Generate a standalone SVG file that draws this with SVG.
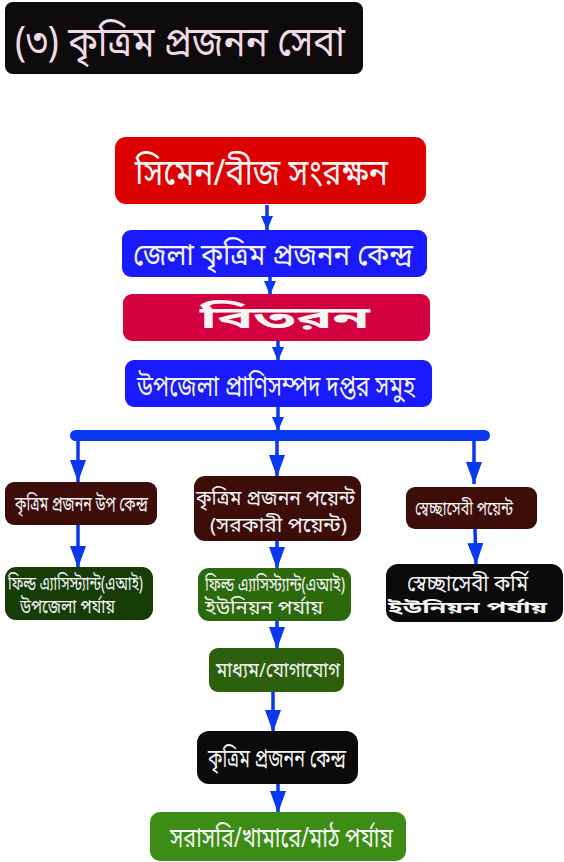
<svg xmlns="http://www.w3.org/2000/svg" width="564" height="862" viewBox="0 0 564 862">
<defs>
<style>
text{font-family:"Noto Sans Bengali","Noto Sans","DejaVu Sans",sans-serif;fill:#f4f4f4;text-anchor:start}
.t{fill:#f0dae6}
.c{stroke:#0a38f0;stroke-width:3.5;fill:none}
</style>
<marker id="al" markerUnits="userSpaceOnUse" viewBox="0 0 22 16" refX="22" refY="8" markerWidth="22" markerHeight="16" orient="auto">
<path d="M0,0 L22,8 L0,16 Z" fill="#0a38f0"/>
</marker>
<marker id="am" markerUnits="userSpaceOnUse" viewBox="0 0 14 12" refX="14" refY="6" markerWidth="14" markerHeight="12" orient="auto">
<path d="M0,0 L14,6 L0,12 Z" fill="#0a38f0"/>
</marker>
</defs>
<rect width="564" height="862" fill="#ffffff"/>
<g id="title">
<rect x="5" y="2" width="358" height="72" rx="8" fill="#0d0b0b"/>
<text class="t" x="15" y="56" font-size="42" textLength="330" lengthAdjust="spacingAndGlyphs">(৩) কৃত্রিম প্রজনন সেবা</text>
</g>
<g id="connectors">
<line class="c" x1="267" y1="205" x2="267" y2="230" marker-end="url(#am)"/>
<line class="c" x1="270" y1="277" x2="270" y2="295" marker-end="url(#am)"/>
<line class="c" x1="278" y1="341" x2="278" y2="361" marker-end="url(#am)"/>
<line class="c" x1="278" y1="407" x2="278" y2="431" marker-end="url(#am)"/>
<rect x="70" y="430" width="420" height="11" rx="5.5" fill="#0a38f0"/>
<line class="c" x1="78" y1="441" x2="78" y2="482" marker-end="url(#al)"/>
<line class="c" x1="277" y1="441" x2="277" y2="477" marker-end="url(#al)"/>
<line class="c" x1="474" y1="441" x2="474" y2="484" marker-end="url(#al)"/>
<line class="c" x1="78" y1="525" x2="78" y2="568" marker-end="url(#al)"/>
<line class="c" x1="277" y1="541" x2="277" y2="569" marker-end="url(#al)"/>
<line class="c" x1="475" y1="529" x2="476" y2="565" marker-end="url(#al)"/>
<line class="c" x1="277" y1="621" x2="277" y2="649" marker-end="url(#al)"/>
<line class="c" x1="273" y1="692" x2="273" y2="732" marker-end="url(#al)"/>
<line class="c" x1="278" y1="784" x2="278" y2="813" marker-end="url(#al)"/>
</g>
<g id="n1">
<rect x="115" y="137" width="311" height="67" rx="11" fill="#dc0000"/>
<text x="135" y="185" font-size="36" textLength="253" lengthAdjust="spacingAndGlyphs">সিমেন/বীজ সংরক্ষন</text>
</g>
<g id="n2">
<rect x="122" y="230" width="305" height="47" rx="9" fill="#1a1aff"/>
<text x="133" y="265" font-size="30" textLength="280" lengthAdjust="spacingAndGlyphs">জেলা কৃত্রিম প্রজনন কেন্দ্র</text>
</g>
<g id="n3">
<rect x="123" y="294" width="307" height="47" rx="9" fill="#d2003e"/>
<text x="200" y="328" font-size="30" font-weight="bold" textLength="170" lengthAdjust="spacingAndGlyphs">বিতরন</text>
</g>
<g id="n4">
<rect x="125" y="360" width="307" height="47" rx="9" fill="#1a1aff"/>
<text x="137" y="396" font-size="29" textLength="278" lengthAdjust="spacingAndGlyphs">উপজেলা প্রাণিসম্পদ দপ্তর সমুহ</text>
</g>
<g id="n5">
<rect x="5" y="482" width="152" height="43" rx="9" fill="#3d0d0a"/>
<text x="15" y="511" font-size="20" textLength="133" lengthAdjust="spacingAndGlyphs">কৃত্রিম প্রজনন উপ কেন্দ্র</text>
</g>
<g id="n6">
<rect x="194" y="476" width="167" height="65" rx="11" fill="#3d0d0a"/>
<text x="196" y="505" font-size="21" textLength="159" lengthAdjust="spacingAndGlyphs">কৃত্রিম প্রজনন পয়েন্ট</text>
<text x="210" y="532" font-size="20" textLength="137" lengthAdjust="spacingAndGlyphs">(সরকারী পয়েন্ট)</text>
</g>
<g id="n7">
<rect x="406" y="487" width="131" height="42" rx="9" fill="#3d0d0a"/>
<text x="415" y="515" font-size="19" textLength="98" lengthAdjust="spacingAndGlyphs">স্বেচ্ছাসেবী পয়েন্ট</text>
</g>
<g id="n8">
<rect x="5" y="567" width="148" height="53" rx="11" fill="#173d06"/>
<text x="8" y="590" font-size="19" textLength="135" lengthAdjust="spacingAndGlyphs">ফিল্ড এ্যাসিস্ট্যান্ট(এআই)</text>
<text x="20" y="613" font-size="19" textLength="95" lengthAdjust="spacingAndGlyphs">উপজেলা পর্যায়</text>
</g>
<g id="n9">
<rect x="198" y="568" width="153" height="53" rx="11" fill="#2b690b"/>
<text x="205" y="591" font-size="19" textLength="140" lengthAdjust="spacingAndGlyphs">ফিল্ড এ্যাসিস্ট্যান্ট(এআই)</text>
<text x="205" y="614" font-size="19" textLength="118" lengthAdjust="spacingAndGlyphs">ইউনিয়ন পর্যায়</text>
</g>
<g id="n10">
<rect x="386" y="564" width="177" height="58" rx="12" fill="#0b0b0b"/>
<text x="407" y="591" font-size="23" textLength="121" lengthAdjust="spacingAndGlyphs">স্বেচ্ছাসেবী কর্মি</text>
<text x="388" y="613" font-size="15" font-weight="bold" textLength="159" lengthAdjust="spacingAndGlyphs">ইউনিয়ন পর্যায়</text>
</g>
<g id="n11">
<rect x="209" y="648" width="135" height="44" rx="9" fill="#2b5f0b"/>
<text x="216" y="677" font-size="20" textLength="124" lengthAdjust="spacingAndGlyphs">মাধ্যম/যোগাযোগ</text>
</g>
<g id="n12">
<rect x="197" y="731" width="161" height="53" rx="12" fill="#0b0b0b"/>
<text x="208" y="767" font-size="25" textLength="138" lengthAdjust="spacingAndGlyphs">কৃত্রিম প্রজনন কেন্দ্র</text>
</g>
<g id="n13">
<rect x="150" y="812" width="256" height="49" rx="10" fill="#3d8c15"/>
<text x="170" y="847" font-size="27" textLength="223" lengthAdjust="spacingAndGlyphs">সরাসরি/খামারে/মাঠ পর্যায়</text>
</g>
</svg>
